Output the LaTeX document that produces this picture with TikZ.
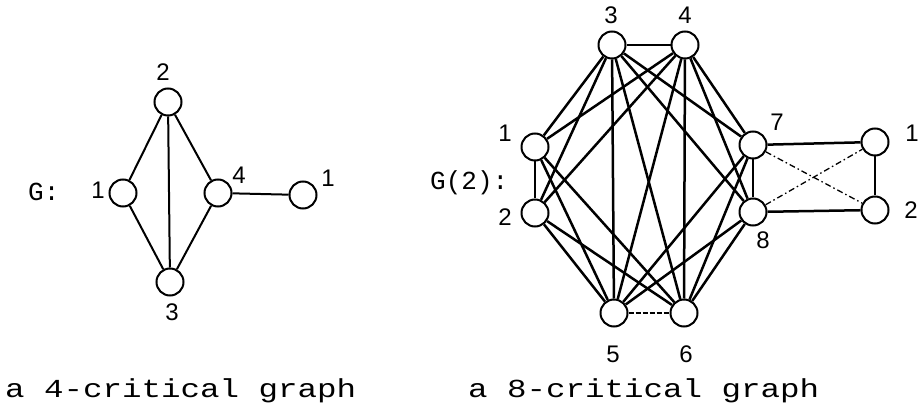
\documentclass[tikz,border=0pt]{standalone}
\usepackage{fontspec}
\setmainfont{Liberation Sans}
\newfontfamily\capfont{Liberation Mono}
\begin{document}
\begin{tikzpicture}[x=1pt,y=-1pt,
  v/.style={circle,draw,line width=2pt,minimum size=27pt,inner sep=0pt},
  lbl/.style={font=\fontsize{24}{24}\selectfont,inner sep=0pt},
  captxt/.style={font=\capfont\fontsize{26}{26}\selectfont,inner sep=0pt,anchor=base west},
  el/.style={line width=2pt},
  e/.style={line width=2.5pt},
  ed/.style={line width=1.3pt,dash pattern=on 6pt off 3pt on 1.5pt off 3pt}]
\useasboundingbox (0,0) rectangle (923,411);
% left graph
\node[v] (a1) at (123,193) {};
\node[v] (a2) at (168,102) {};
\node[v] (a3) at (170,282) {};
\node[v] (a4) at (218,193) {};
\node[v] (a5) at (303,195) {};
\node[lbl] (la2) at (163,72) {2};
\node[lbl] (la1) at (98,190) {1};
\node[lbl] (la4) at (239,175) {4};
\node[lbl] (la5) at (328,178) {1};
\node[lbl] (la3) at (172,312) {3};
\node[captxt,anchor=west] (gl) at (28,192) {G:};
\foreach \u/\w in {a1/a2,a2/a3,a2/a4,a1/a3,a3/a4,a4/a5} \draw[el] (\u)--(\w);
% right graph
\node[v] (b1) at (535,147) {};
\node[v] (b2) at (535,213) {};
\node[v] (b3) at (612,45) {};
\node[v] (b4) at (685,45) {};
\node[v] (b5) at (614,313) {};
\node[v] (b6) at (684,313) {};
\node[v] (b7) at (753,145) {};
\node[v] (b8) at (753,212) {};
\node[v] (r1) at (875,142) {};
\node[v] (r2) at (875,210) {};
\node[lbl] (lb3) at (611,15) {3};
\node[lbl] (lb4) at (685,15) {4};
\node[lbl] (lb1) at (505,133) {1};
\node[lbl] (lb2) at (505,217) {2};
\node[lbl] (lb5) at (613,354) {5};
\node[lbl] (lb6) at (686,354) {6};
\node[lbl] (lb7) at (777,122) {7};
\node[lbl] (lb8) at (763,240) {8};
\node[lbl] (lr1) at (912,133) {1};
\node[lbl] (lr2) at (911,210) {2};
\node[captxt,anchor=west] (gr) at (430,183) {G(2):};
\foreach \u/\w in {b1/b2,b3/b4,b7/b8,
  b1/b3,b1/b4,b1/b5,b1/b6,b2/b3,b2/b4,b2/b5,b2/b6,
  b3/b5,b3/b6,b4/b5,b4/b6,
  b3/b7,b3/b8,b4/b7,b4/b8,
  b5/b7,b5/b8,b6/b7,b6/b8,
  b7/r1,b8/r2,r1/r2} \draw[e] (\u)--(\w);
\draw[e,dash pattern=on 5pt off 2pt] (b5)--(b6);
\draw[ed] (b7)--(r2);
\draw[ed] (b8)--(r1);
% captions
\node[captxt] (c1) at (5,397) {\scalebox{1.25}[1]{a 4-critical graph}};
\node[captxt] (c2) at (468,397) {\scalebox{1.25}[1]{a 8-critical graph}};
\end{tikzpicture}
\end{document}
